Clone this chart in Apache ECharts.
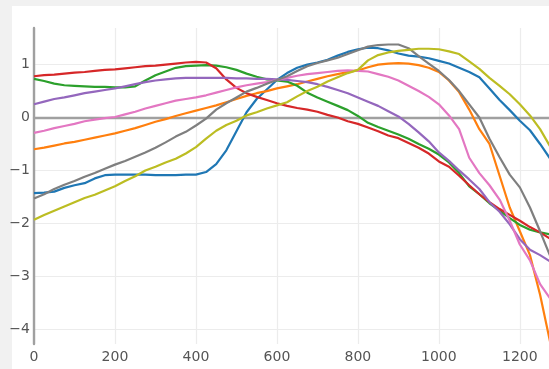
<!DOCTYPE html>
<html>
<head>
<meta charset="utf-8">
<script src="https://cdn.jsdelivr.net/npm/echarts@6/dist/echarts.min.js"></script>
<style>
  html, body { margin: 0; padding: 0; background: #f1f1f1; }
  #wrap { position: relative; width: 549px; height: 369px; overflow: hidden; }
  #paper { position: absolute; left: 12px; top: 6px; right: 0; bottom: 0; background: #ffffff; }
  #chart { position: absolute; left: 0; top: 0; width: 549px; height: 369px; }
</style>
</head>
<body>
<div id="wrap"><div id="paper"></div><div id="chart"></div></div>
<script>
// sample positions along x
const xs = [0, 25, 50, 75, 100, 125, 150, 175, 200, 225, 250, 275, 300, 325, 350, 375, 400, 425, 450, 475,
  500, 525, 550, 575, 600, 625, 650, 675, 700, 725, 750, 775, 800, 825, 850, 875, 900, 925, 950, 975,
  1000, 1025, 1050, 1075, 1100, 1125, 1150, 1175, 1200, 1225, 1250, 1275];

const blue = [-1.43, -1.42, -1.40, -1.33, -1.28, -1.24, -1.15, -1.09, -1.08, -1.08, -1.08, -1.08, -1.09, -1.09, -1.09, -1.08, -1.08, -1.03, -0.88, -0.62,
  -0.26, 0.10, 0.35, 0.53, 0.71, 0.84, 0.94, 1.00, 1.04, 1.09, 1.17, 1.24, 1.29, 1.32, 1.31, 1.27, 1.21, 1.17, 1.15, 1.12,
  1.07, 1.02, 0.94, 0.86, 0.76, 0.55, 0.33, 0.14, -0.06, -0.24, -0.50, -0.78];

const orange = [-0.60, -0.57, -0.53, -0.49, -0.46, -0.42, -0.38, -0.34, -0.30, -0.25, -0.20, -0.14, -0.08, -0.03, 0.03, 0.08, 0.13, 0.18, 0.23, 0.29,
  0.35, 0.41, 0.46, 0.50, 0.55, 0.59, 0.63, 0.68, 0.73, 0.78, 0.82, 0.86, 0.89, 0.95, 1.00, 1.02, 1.03, 1.02, 0.99, 0.94,
  0.86, 0.70, 0.48, 0.15, -0.22, -0.50, -1.10, -1.70, -2.15, -2.60, -3.35, -4.25];

const green = [0.73, 0.69, 0.64, 0.61, 0.60, 0.59, 0.58, 0.58, 0.57, 0.57, 0.59, 0.70, 0.80, 0.87, 0.94, 0.97, 0.98, 0.99, 0.98, 0.95,
  0.90, 0.83, 0.77, 0.72, 0.70, 0.68, 0.60, 0.47, 0.38, 0.30, 0.22, 0.14, 0.03, -0.10, -0.18, -0.25, -0.32, -0.40, -0.50, -0.59,
  -0.70, -0.85, -1.05, -1.30, -1.45, -1.62, -1.76, -1.90, -2.03, -2.12, -2.17, -2.21];

const red = [0.78, 0.80, 0.81, 0.83, 0.85, 0.86, 0.88, 0.90, 0.91, 0.93, 0.95, 0.97, 0.98, 1.00, 1.02, 1.04, 1.05, 1.04, 0.93, 0.72,
  0.56, 0.46, 0.39, 0.33, 0.27, 0.22, 0.18, 0.15, 0.11, 0.05, 0.00, -0.07, -0.12, -0.19, -0.26, -0.34, -0.39, -0.48, -0.57, -0.68,
  -0.83, -0.93, -1.10, -1.28, -1.45, -1.60, -1.73, -1.84, -1.95, -2.07, -2.17, -2.29];

const purple = [0.25, 0.30, 0.35, 0.38, 0.42, 0.46, 0.49, 0.52, 0.55, 0.59, 0.63, 0.67, 0.70, 0.72, 0.74, 0.75, 0.75, 0.75, 0.75, 0.75,
  0.74, 0.74, 0.73, 0.73, 0.72, 0.71, 0.69, 0.67, 0.63, 0.58, 0.52, 0.46, 0.38, 0.30, 0.22, 0.12, 0.02, -0.12, -0.28, -0.45,
  -0.66, -0.82, -1.00, -1.17, -1.35, -1.60, -1.78, -2.02, -2.30, -2.50, -2.60, -2.72];

const pink = [-0.29, -0.25, -0.20, -0.16, -0.12, -0.07, -0.04, -0.01, 0.01, 0.06, 0.11, 0.17, 0.22, 0.27, 0.32, 0.35, 0.38, 0.42, 0.47, 0.52,
  0.57, 0.61, 0.64, 0.67, 0.71, 0.75, 0.79, 0.82, 0.84, 0.86, 0.88, 0.89, 0.88, 0.87, 0.82, 0.77, 0.70, 0.60, 0.50, 0.39,
  0.25, 0.04, -0.22, -0.76, -1.05, -1.28, -1.55, -1.95, -2.40, -2.70, -3.15, -3.42];

const gray = [-1.53, -1.45, -1.35, -1.27, -1.20, -1.12, -1.05, -0.97, -0.89, -0.82, -0.74, -0.66, -0.57, -0.47, -0.36, -0.27, -0.15, -0.02, 0.15, 0.27,
  0.38, 0.49, 0.56, 0.64, 0.71, 0.78, 0.88, 0.97, 1.03, 1.08, 1.13, 1.20, 1.27, 1.34, 1.37, 1.38, 1.38, 1.31, 1.16, 1.02,
  0.88, 0.71, 0.50, 0.25, 0.00, -0.40, -0.75, -1.08, -1.32, -1.70, -2.15, -2.62];

const olive = [-1.93, -1.84, -1.76, -1.68, -1.60, -1.52, -1.46, -1.38, -1.30, -1.20, -1.11, -1.00, -0.93, -0.85, -0.78, -0.68, -0.56, -0.40, -0.25, -0.14,
  -0.06, 0.04, 0.10, 0.17, 0.23, 0.29, 0.40, 0.50, 0.58, 0.68, 0.76, 0.84, 0.90, 1.08, 1.18, 1.23, 1.26, 1.28, 1.30, 1.30,
  1.29, 1.25, 1.20, 1.06, 0.92, 0.75, 0.60, 0.44, 0.25, 0.04, -0.22, -0.55];

const traces = [
  { name: 'trace 0', values: blue,   color: '#1f77b4' },
  { name: 'trace 1', values: orange, color: '#ff7f0e' },
  { name: 'trace 2', values: green,  color: '#2ca02c' },
  { name: 'trace 3', values: red,    color: '#d62728' },
  { name: 'trace 4', values: purple, color: '#9467bd' },
  { name: 'trace 6', values: pink,   color: '#e377c2' },
  { name: 'trace 7', values: gray,   color: '#7f7f7f' },
  { name: 'trace 8', values: olive,  color: '#bcbd22' }
];

const X_MIN = 0, X_MAX = 1272;
const Y_MIN = -4.28, Y_MAX = 1.692;

const tickFont = { color: '#555', fontFamily: 'DejaVu Sans', fontSize: 14 };
const gridLine = { color: '#ececec', width: 1.2 };
const zeroLine = { color: '#a0a0a0', width: 2.4 };

// plain numbers, typographic minus
const fmt = v => String(v).replace('-', '\u2212');

const chart = echarts.init(document.getElementById('chart'), null, { renderer: 'canvas' });
chart.setOption({
  animation: false,
  backgroundColor: 'transparent',
  grid: { left: 34, top: 28, right: 0, bottom: 25, containLabel: false },
  xAxis: [
    {
      type: 'value', min: X_MIN, max: X_MAX, interval: 200, z: 0,
      axisLine: { show: false, onZero: false },
      axisTick: { show: false },
      axisLabel: Object.assign({ margin: 6, showMaxLabel: false, formatter: fmt }, tickFont),
      splitLine: { show: true, showMaxLine: false, lineStyle: gridLine }
    },
    {
      // horizontal zero line
      type: 'value', min: X_MIN, max: X_MAX, position: 'top', z: 1.5,
      axisLine: { show: true, onZero: true, lineStyle: zeroLine },
      axisTick: { show: false },
      axisLabel: { show: false },
      splitLine: { show: false }
    }
  ],
  yAxis: {
    type: 'value', min: Y_MIN, max: Y_MAX, minInterval: 1, maxInterval: 1, z: 1,
    axisLine: { show: true, onZero: true, lineStyle: zeroLine },
    axisTick: { show: false },
    axisLabel: Object.assign({
      margin: 4, showMinLabel: false, showMaxLabel: false, formatter: fmt
    }, tickFont),
    splitLine: { show: true, showMinLine: false, showMaxLine: false, lineStyle: gridLine }
  },
  series: traces.map(t => ({
    name: t.name,
    type: 'line',
    xAxisIndex: 0,
    showSymbol: false,
    symbol: 'none',
    z: 2,
    lineStyle: { width: 2.2, color: t.color },
    itemStyle: { color: t.color },
    data: xs.map((x, i) => [x, t.values[i]])
  }))
});
</script>
</body>
</html>
